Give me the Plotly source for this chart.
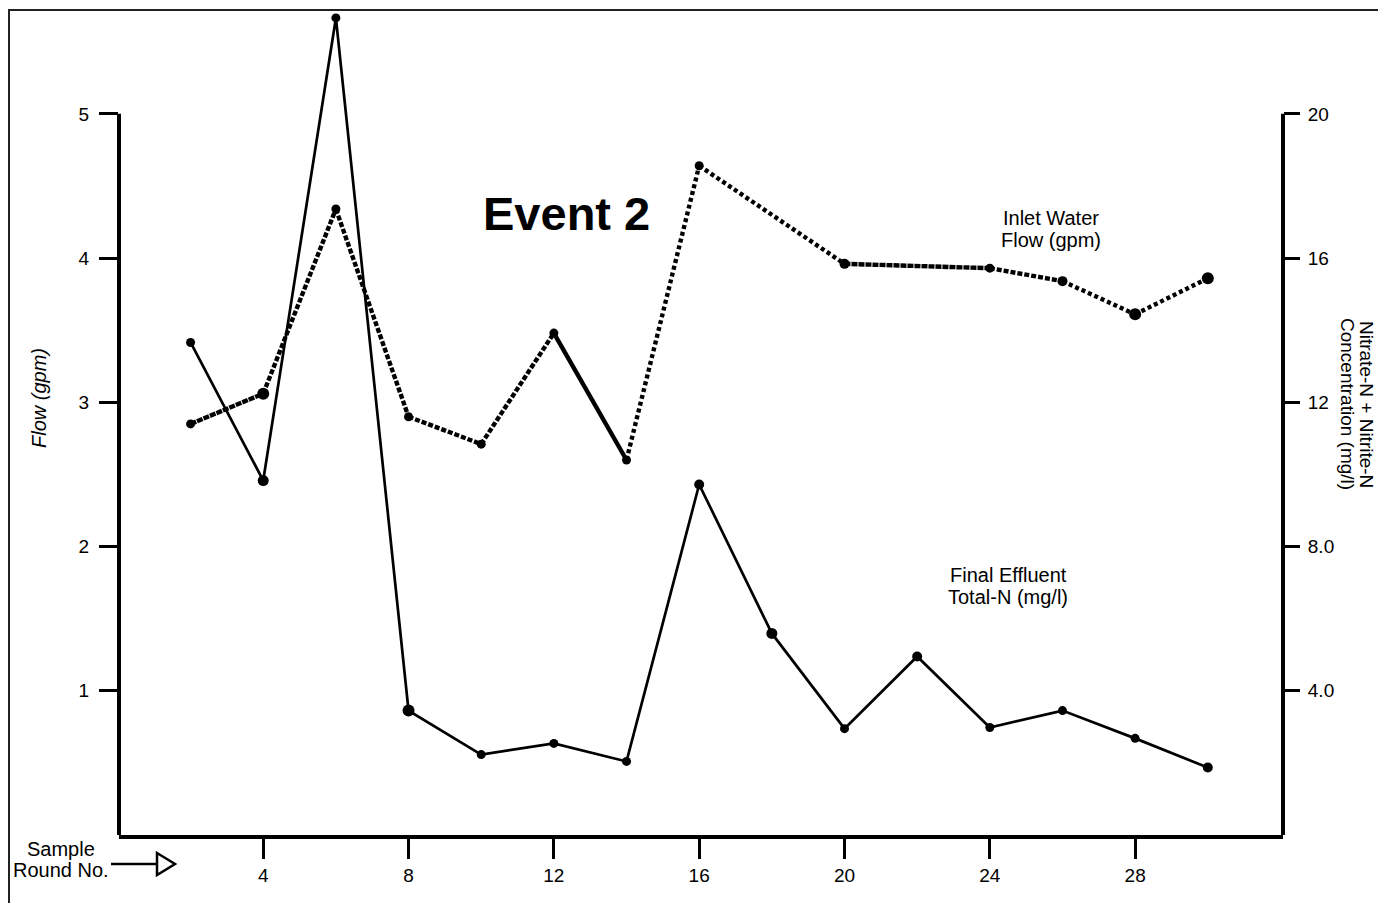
import plotly.graph_objects as go

# ---------------- data ----------------
flow_rounds = [2, 4, 6, 8, 10, 12, 14, 16, 20, 24, 26, 28, 30]
inlet_flow_gpm = [2.85, 3.06, 4.34, 2.90, 2.71, 3.48, 2.60, 4.64, 3.96, 3.93, 3.84, 3.61, 3.86]

effluent_rounds = [2, 4, 6, 8, 10, 12, 14, 16, 18, 20, 22, 24, 26, 28, 30]
effluent_total_n = [13.66, 9.83, 22.66, 3.45, 2.23, 2.54, 2.04, 9.72, 5.59, 2.95, 4.95, 2.98, 3.45, 2.68, 1.87]

x_ticks = [4, 8, 12, 16, 20, 24, 28]
flow_ticks = [1, 2, 3, 4, 5]
conc_ticks = [4, 8, 12, 16, 20]
conc_tick_text = ["4.0", "8.0", "12", "16", "20"]

# ---------------- styles ----------------
flow_segment_dash = ["6px,1px", "5px,2px", "5px,2px", "5px,2px", "5px,2px", "solid",
                     "4px,3px", "4px,3px", "6px,1px", "5px,2px", "4px,3px", "4px,3px"]
flow_marker_size = [9, 12, 9, 9, 9, 9, 9, 9, 10, 9, 10, 12, 12]
effluent_marker_size = [9, 11, 9, 12, 9, 9, 9, 10, 11, 9, 10, 9, 9, 9, 10]

FONT = "Liberation Sans, Arial, Helvetica, sans-serif"
OFF = 8                      # page body margin in the browser
W, H = 1386 - OFF, 903 - OFF
PLOT_L, PLOT_R, PLOT_T, PLOT_B = 119, 1283, 10, 835   # screen pixels
PW, PH = PLOT_R - PLOT_L, PLOT_B - PLOT_T


def px(x):
    return (x - PLOT_L) / PW


def py(y):
    return (PLOT_B - y) / PH


fig = go.Figure()

# inlet water flow (left axis), drawn segment by segment for its varying dash
for i in range(len(flow_rounds) - 1):
    fig.add_trace(go.Scatter(
        x=flow_rounds[i:i + 2], y=inlet_flow_gpm[i:i + 2], yaxis="y",
        mode="lines", line=dict(color="black", width=4.4, dash=flow_segment_dash[i]),
        showlegend=False, hoverinfo="skip"))
fig.add_trace(go.Scatter(
    x=flow_rounds, y=inlet_flow_gpm, yaxis="y", mode="markers",
    marker=dict(color="black", size=flow_marker_size, opacity=1, line=dict(width=0)),
    showlegend=False, name="Inlet Water Flow (gpm)"))

# final effluent total-N (right axis)
fig.add_trace(go.Scatter(
    x=effluent_rounds, y=effluent_total_n, yaxis="y2", mode="lines+markers",
    line=dict(color="black", width=2.7),
    marker=dict(color="black", size=effluent_marker_size, opacity=1, line=dict(width=0)),
    showlegend=False, name="Final Effluent Total-N (mg/l)"))

y_top = 5.72
fig.update_layout(
    width=W, height=H,
    margin=dict(l=PLOT_L - OFF, r=W - (PLOT_R - OFF), t=PLOT_T - OFF, b=H - (PLOT_B - OFF)),
    paper_bgcolor="white", plot_bgcolor="white",
    font=dict(family=FONT, size=19, color="black"),
    xaxis=dict(range=[0.03, 32.07], tickvals=x_ticks, ticks="outside", ticklen=20,
               tickwidth=3, tickcolor="black", showgrid=False, zeroline=False,
               showline=True, linewidth=4, linecolor="black",
               tickfont=dict(size=19, family=FONT), ticklabelstandoff=0),
    yaxis=dict(range=[0, y_top], tickvals=flow_ticks, ticks="outside", ticklen=19,
               tickwidth=3, tickcolor="black", showgrid=False, zeroline=False,
               showline=False, tickfont=dict(size=19, family=FONT),
               ticklabelstandoff=6),
    yaxis2=dict(range=[0, y_top * 4], overlaying="y", side="right",
                tickvals=conc_ticks, ticktext=conc_tick_text, ticks="outside",
                ticklen=16, tickwidth=3, tickcolor="black", showgrid=False,
                zeroline=False, showline=False, tickfont=dict(size=19, family=FONT),
                ticklabelstandoff=4),
)

shapes = [
    # left and right axis lines that stop at the top tick
    dict(type="line", xref="paper", yref="y", x0=0, x1=0, y0=0, y1=5,
         line=dict(color="black", width=4)),
    dict(type="line", xref="paper", yref="y", x0=1, x1=1, y0=0, y1=5,
         line=dict(color="black", width=4)),
    # outer frame
    dict(type="rect", xref="paper", yref="paper", x0=px(9), x1=px(1500),
         y0=py(1000), y1=py(10), line=dict(color="#222", width=2),
         fillcolor="rgba(0,0,0,0)", layer="below"),
    # arrow for "Sample Round No."
    dict(type="line", xref="paper", yref="paper", x0=px(111), x1=px(158),
         y0=py(864), y1=py(864), line=dict(color="black", width=2.5)),
    dict(type="path", xref="paper", yref="paper",
         path=f"M {px(157)},{py(853)} L {px(175)},{py(864)} L {px(157)},{py(875)} Z",
         fillcolor="white", line=dict(color="black", width=2.5)),
]
fig.update_layout(shapes=shapes)


def ann(text, x, y, size=20, bold=False, italic=False, angle=0):
    t = text
    if bold:
        t = f"<b>{t}</b>"
    if italic:
        t = f"<i>{t}</i>"
    return dict(text=t, xref="paper", yref="paper", x=px(x), y=py(y),
                xanchor="center", yanchor="middle", showarrow=False,
                textangle=angle, font=dict(family=FONT, size=size, color="black"))


annotations = [
    ann("Event 2", 566, 213, size=47, bold=True),
    ann("Inlet Water", 1051, 218),
    ann("Flow (gpm)", 1051, 240),
    ann("Final Effluent", 1008, 575),
    ann("Total-N (mg/l)", 1008, 597),
    ann("Sample", 61, 849),
    ann("Round No.", 61, 870),
    ann("Flow (gpm)", 39, 398, size=20, italic=True, angle=-90),
    ann("Nitrate-N + Nitrite-N", 1367, 404, size=19, angle=90),
    ann("Concentration (mg/l)", 1348, 404, size=19, angle=90),
]
fig.update_layout(annotations=annotations)

fig.write_html("out.html")
